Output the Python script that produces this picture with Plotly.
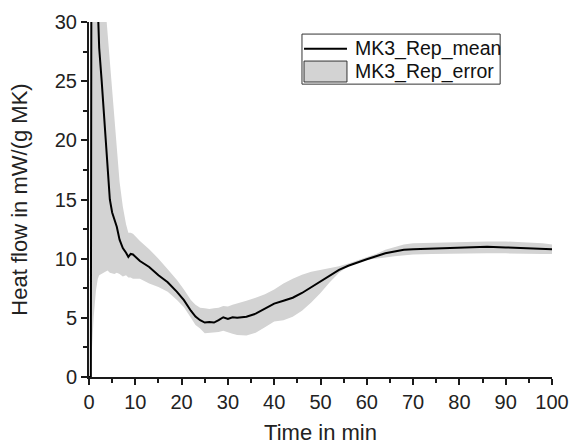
import plotly.graph_objects as go

# Time in min
time_min = [0, 0.3, 0.4, 0.55, 1.0, 1.5, 1.9, 2.2, 2.74, 3.2, 3.6, 4.0, 4.5, 5.0, 5.5, 6.0, 6.6, 7.3,
            8.0, 8.5, 9.0, 9.5, 11, 13, 15, 17, 19, 20.5, 22, 23, 24, 25, 26, 27, 28, 29, 30, 31,
            32, 34, 36, 38, 40, 42, 44, 46, 48, 50, 52, 54, 56, 58, 60, 62, 64, 66, 68, 70, 74,
            78, 82, 86, 90, 94, 98, 100]

# MK3_Rep_mean (mW/(g MK))
mean_vals = [0, 0, 0, 45, 48, 36, 30, 27.8, 25, 22.3, 20, 17.6, 15, 13.9, 13.3, 12.7, 11.6, 10.9,
             10.5, 10.15, 10.4, 10.35, 9.8, 9.3, 8.6, 8.0, 7.2, 6.5, 5.6, 5.1, 4.8, 4.6, 4.65, 4.6,
             4.8, 5.05, 4.9, 5.05, 5.0, 5.1, 5.35, 5.8, 6.2, 6.45, 6.7, 7.1, 7.6, 8.05, 8.6, 9.05,
             9.4, 9.7, 9.95, 10.2, 10.45, 10.6, 10.75, 10.8, 10.85, 10.95, 11.0, 11.0, 10.95,
             10.9, 10.85, 10.8]

# MK3_Rep_error band: upper and lower bounds
upper_vals = [0, 0, 60, 60, 60, 55, 45, 41, 36, 33, 31, 29, 26.7, 24, 21.6, 19, 16.5, 14.4,
              12.9, 12.2, 12.2, 12.1, 11.5, 10.8, 10.0, 9.1, 8.2, 7.4, 6.5, 6.1, 5.85, 5.8, 5.75,
              5.8, 5.85, 6.0, 5.95, 6.1, 6.2, 6.45, 6.7, 7.0, 7.4, 7.9, 8.3, 8.65, 8.9, 9.05, 9.2,
              9.35, 9.6, 9.85, 10.1, 10.4, 10.75, 11.0, 11.2, 11.3, 11.35, 11.4, 11.45, 11.45,
              11.45, 11.4, 11.3, 11.2]
lower_vals = [0, 0, 0, 1.0, 5.0, 7.3, 8.3, 8.6, 8.7, 8.8, 8.9, 9.0, 8.8, 8.75, 8.7, 8.8, 8.7, 8.5,
              8.6, 8.4, 8.4, 8.3, 8.3, 7.9, 7.6, 7.2, 6.5, 5.9, 5.0, 4.4, 4.1, 3.7, 3.7, 3.75, 3.8,
              3.9, 3.8, 3.65, 3.55, 3.5, 3.75, 4.2, 4.7, 4.8, 5.1, 5.6, 6.3, 7.1, 8.0, 8.8, 9.35,
              9.7, 9.9, 10.0, 10.1, 10.2, 10.3, 10.35, 10.4, 10.45, 10.45, 10.45, 10.45, 10.45,
              10.4, 10.4]

x_ticks = list(range(0, 101, 10))
y_ticks = list(range(0, 31, 5))
legend_names = ["MK3_Rep_mean", "MK3_Rep_error"]

FONT = "Liberation Sans, Arial, sans-serif"
BAND = "#d3d3d3"
AXIS = "#1a1a1a"

fig = go.Figure()

fig.add_trace(go.Scatter(
    x=time_min + time_min[::-1],
    y=upper_vals + lower_vals[::-1],
    fill="toself", fillcolor=BAND, mode="lines",
    line=dict(width=0, color=BAND), name=legend_names[1], showlegend=False,
    hoverinfo="skip"))

fig.add_trace(go.Scatter(
    x=time_min, y=mean_vals, mode="lines", name=legend_names[0], showlegend=False,
    line=dict(color="black", width=2)))

axis_common = dict(
    showline=True, linecolor=AXIS, linewidth=2, mirror=False,
    showgrid=False, zeroline=False,
    ticks="outside", ticklen=6, tickwidth=2, tickcolor=AXIS,
    tickfont=dict(family=FONT, size=20, color="#222"),
)

fig.update_xaxes(
    range=[0, 100], tickvals=x_ticks,
    minor=dict(dtick=5, ticks="outside", ticklen=4, tickwidth=2, tickcolor=AXIS, showgrid=False),
    title=dict(text="Time in min", font=dict(family=FONT, size=22, color="#222"), standoff=14),
    **axis_common)
fig.update_yaxes(
    range=[0, 30], tickvals=y_ticks,
    minor=dict(dtick=2.5, ticks="outside", ticklen=4, tickwidth=2, tickcolor=AXIS, showgrid=False),
    title=dict(text="Heat flow in mW/(g MK)", font=dict(family=FONT, size=22, color="#222"), standoff=21),
    **axis_common)

# Legend drawn as a boxed key (paper coordinates)
fig.add_shape(type="rect", xref="paper", yref="paper", x0=0.460, x1=0.888, y0=0.825, y1=0.966,
              line=dict(color="#333333", width=1), fillcolor="white", layer="above")
fig.add_shape(type="line", xref="paper", yref="paper", x0=0.4644, x1=0.5572, y0=0.925, y1=0.925,
              line=dict(color="black", width=2), layer="above")
fig.add_shape(type="rect", xref="paper", yref="paper", x0=0.4644, x1=0.5572, y0=0.831, y1=0.890,
              line=dict(color="#333333", width=1), fillcolor=BAND, layer="above")
for name, ypos in zip(legend_names, [0.925, 0.860]):
    fig.add_annotation(xref="paper", yref="paper", x=0.5700, y=ypos, xanchor="left",
                       yanchor="middle", text=name, showarrow=False,
                       font=dict(family=FONT, size=19.5, color="#111"))

fig.update_layout(
    width=580, height=445,
    margin=dict(l=89, r=28, t=22, b=68, autoexpand=False),
    paper_bgcolor="white", plot_bgcolor="white",
    font=dict(family=FONT, color="#222"),
    showlegend=False,
)

fig.write_html("out.html")
